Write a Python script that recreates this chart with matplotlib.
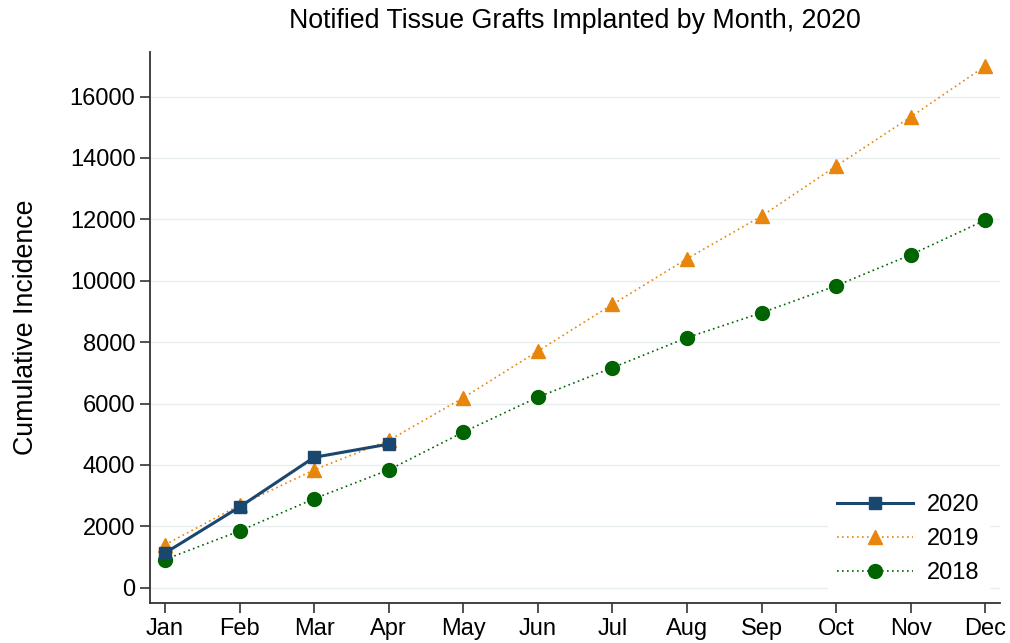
import matplotlib.pyplot as plt

plt.rcParams['font.family'] = ['Liberation Sans', 'DejaVu Sans']

months = ['Jan', 'Feb', 'Mar', 'Apr', 'May', 'Jun', 'Jul', 'Aug', 'Sep', 'Oct', 'Nov', 'Dec']
y2020 = [1130, 2630, 4250, 4680]
y2019 = [1400, 2690, 3840, 4800, 6190, 7710, 9230, 10720, 12110, 13740, 15340, 17000]
y2018 = [920, 1850, 2900, 3840, 5070, 6210, 7170, 8150, 8960, 9840, 10850, 11980]
yticks = [0, 2000, 4000, 6000, 8000, 10000, 12000, 14000, 16000]

navy = '#1a476f'
orange = '#e8850c'
green = '#006400'

fig = plt.figure(figsize=(10.1, 6.43), dpi=100)
ax = fig.add_axes([0.1485, 0.062, 0.842, 0.857])

x = list(range(len(months)))
ax.plot(x[:len(y2020)], y2020, color=navy, lw=2.2, marker='s', ms=9, label='2020', zorder=4)
ax.plot(x, y2019, color=orange, lw=1.2, ls=(0, (1, 2)), marker='^', ms=10, label='2019', zorder=3)
ax.plot(x, y2018, color=green, lw=1.2, ls=(0, (1, 2)), marker='o', ms=10, label='2018', zorder=3)

ax.set_xlim(-0.2, 11.2)
ax.set_ylim(-500, 17450)
ax.set_xticks(x)
ax.set_xticklabels(months)
ax.set_yticks(yticks)
ax.grid(axis='y', color='#e6eeee', lw=1)
ax.set_axisbelow(True)
for s in ['top', 'right']:
    ax.spines[s].set_visible(False)
for s in ['left', 'bottom']:
    ax.spines[s].set_color('#333333')
    ax.spines[s].set_linewidth(1.3)
ax.tick_params(labelsize=17, length=7, width=1.2, color='#333333')
ax.set_ylabel('Cumulative Incidence', fontsize=19.3, labelpad=22)
ax.set_title('Notified Tissue Grafts Implanted by Month, 2020', fontsize=19.3, pad=17)

ax.legend(loc='lower right', frameon=True, fontsize=17, handlelength=3.2, handletextpad=0.6,
          facecolor='white', edgecolor='white', framealpha=1, borderaxespad=0.3,
          bbox_to_anchor=(0.995, 0.005))

fig.savefig('out.png', dpi=100)
